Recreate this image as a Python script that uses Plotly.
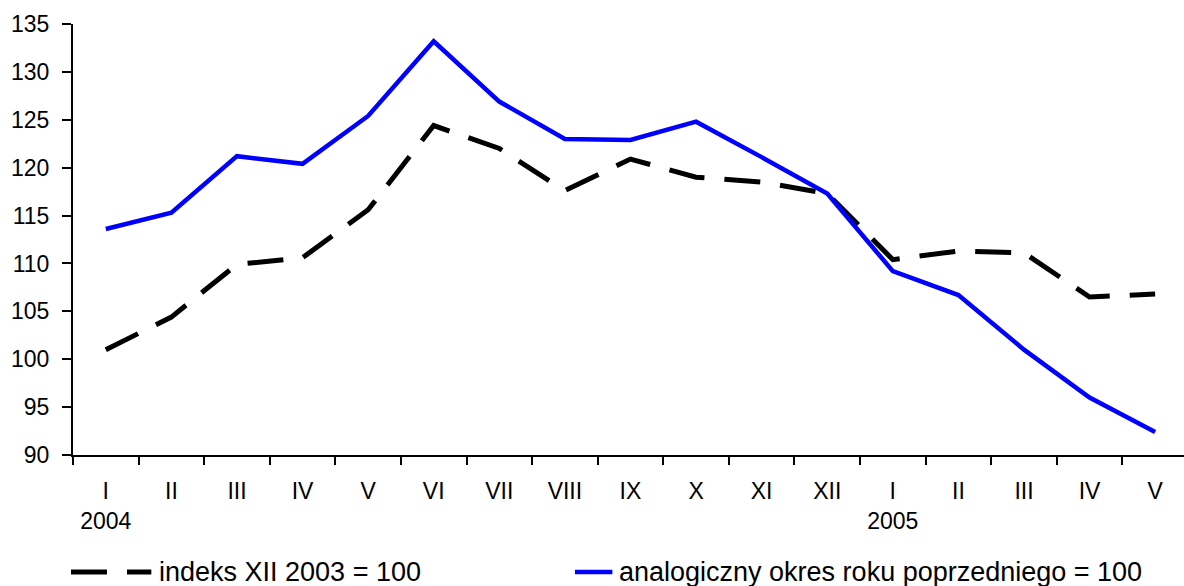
import plotly.graph_objects as go

# ── data ──────────────────────────────────────────────────────────────────────
MONTHS = ["I", "II", "III", "IV", "V", "VI", "VII", "VIII", "IX", "X", "XI", "XII",
          "I ", "II ", "III ", "IV ", "V "]
TICK_TEXT = ["I<br>2004", "II", "III", "IV", "V", "VI", "VII", "VIII", "IX", "X",
             "XI", "XII", "I<br>2005", "II", "III", "IV", "V"]

INDEKS = [101.0, 104.4, 109.9, 110.6, 115.6, 124.4, 122.0, 117.6, 120.9, 119.0,
          118.5, 117.3, 110.4, 111.3, 111.1, 106.5, 106.8]
ANALOG = [113.6, 115.3, 121.2, 120.4, 125.4, 133.2, 126.9, 123.0, 122.9, 124.8,
          121.1, 117.3, 109.2, 106.7, 101.0, 96.0, 92.4]

LABEL_INDEKS = "indeks XII 2003 = 100"
LABEL_ANALOG = "analogiczny okres roku poprzedniego = 100"

Y_TICKS = [90, 95, 100, 105, 110, 115, 120, 125, 130, 135]

FONT = "Liberation Sans, Arial, sans-serif"
BLUE = "#0000ff"
DASH = "36px,20px"

fig = go.Figure()

fig.add_trace(go.Scatter(
    x=MONTHS, y=INDEKS, name=LABEL_INDEKS, mode="lines",
    line=dict(color="black", width=5, dash=DASH),
))
fig.add_trace(go.Scatter(
    x=MONTHS, y=ANALOG, name=LABEL_ANALOG, mode="lines",
    line=dict(color=BLUE, width=4.5),
))

# ── hand-made legend below the axis ───────────────────────────────────────────
LEG_Y = -0.2715
fig.add_shape(type="line", xref="paper", yref="paper",
              x0=-0.0018, x1=0.0705, y0=LEG_Y, y1=LEG_Y,
              line=dict(color="black", width=5, dash="36px,20px"))
fig.add_shape(type="line", xref="paper", yref="paper",
              x0=0.4518, x1=0.4855, y0=LEG_Y, y1=LEG_Y,
              line=dict(color=BLUE, width=4.5))
fig.add_annotation(text=LABEL_INDEKS, xref="paper", yref="paper",
                   x=0.0756, y=LEG_Y, xanchor="left", yanchor="middle",
                   showarrow=False, font=dict(size=27, color="black"))
fig.add_annotation(text=LABEL_ANALOG, xref="paper", yref="paper",
                   x=0.4900, y=LEG_Y, xanchor="left", yanchor="middle",
                   showarrow=False, font=dict(size=27, color="black"))

fig.update_layout(
    width=1184, height=586,
    margin=dict(l=73, r=0, t=24, b=131),
    paper_bgcolor="white", plot_bgcolor="white",
    font=dict(family=FONT, size=23, color="black"),
    showlegend=False,
    xaxis=dict(
        type="category",
        tickmode="array", tickvals=MONTHS, ticktext=TICK_TEXT,
        tickson="boundaries",
        range=[-0.5, 16.44],
        showline=True, linecolor="black", linewidth=2,
        ticks="outside", ticklen=8, tickwidth=2, tickcolor="black",
        ticklabelstandoff=14,
        showgrid=False, zeroline=False,
    ),
    yaxis=dict(
        range=[90, 135],
        tickvals=Y_TICKS,
        showline=True, linecolor="black", linewidth=2,
        ticks="outside", ticklen=9, tickwidth=2, tickcolor="black",
        ticklabelstandoff=8,
        showgrid=False, zeroline=False,
    ),
)

# page body has an 8px default margin; drop it so the figure sits at 0,0
fig.write_html("out.html", config={"displayModeBar": False},
               post_script="document.body.style.margin='0';")
